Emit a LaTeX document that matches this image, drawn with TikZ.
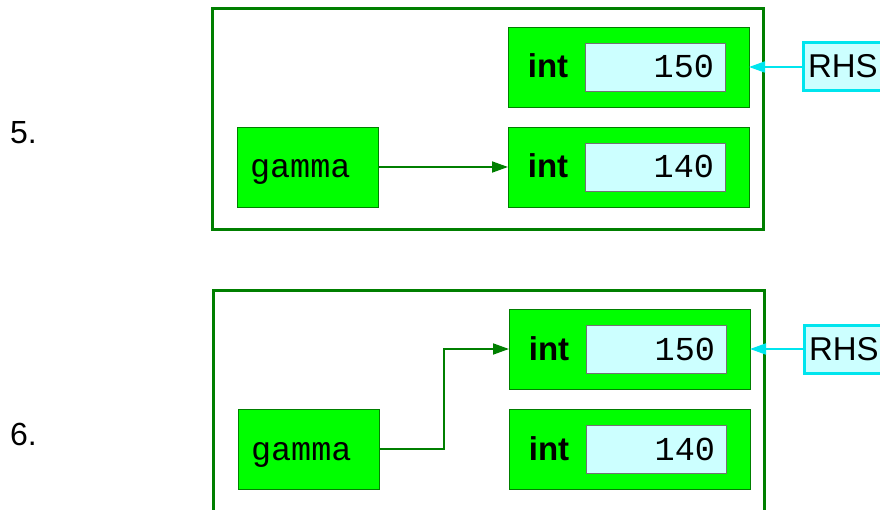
\documentclass[tikz,border=0pt]{standalone}
\usepackage{fontspec}
\setmainfont{Liberation Sans}
\setmonofont{Liberation Mono}
\usetikzlibrary{positioning,arrows.meta}

\definecolor{boxgreen}{HTML}{00FF00}
\definecolor{linegreen}{HTML}{007F00}
\definecolor{valcyan}{HTML}{CCFFFF}
\definecolor{rhscyan}{HTML}{00E5EE}

\begin{document}
\begin{tikzpicture}[
    x=1pt, y=-1pt,
    every node/.style={inner sep=0pt, outer sep=0pt, rectangle},
    frame/.style={draw=linegreen, line width=3pt, minimum width=551pt, minimum height=221pt},
    intbox/.style={draw=linegreen, fill=boxgreen, line width=0.8pt, minimum width=241pt, minimum height=80pt},
    valbox/.style={draw=black!55, fill=valcyan, line width=0.8pt, minimum width=140pt, minimum height=48pt,
        text width=118pt, align=right, text height=27pt, text depth=5pt, font=\fontsize{33.5}{36}\ttfamily},
    typename/.style={text height=27pt, text depth=5pt, font=\fontsize{33}{36}\selectfont\bfseries},
    varbox/.style={draw=linegreen, fill=boxgreen, line width=0.8pt, minimum width=141pt, minimum height=80pt,
        text width=115pt, align=left, text height=27pt, text depth=5pt, font=\fontsize{33.5}{36}\ttfamily},
    rhsbox/.style={draw=rhscyan, fill=valcyan, line width=3pt, minimum width=82pt, minimum height=48pt,
        text width=72pt, align=left, text height=27pt, text depth=5pt, font=\fontsize{33}{36}\selectfont},
    steplabel/.style={anchor=base west, font=\fontsize{32}{36}\selectfont},
    >={Triangle[length=16pt, width=11pt]}
]

\useasboundingbox (0,0) rectangle (880,510);
\clip (0,0) rectangle (880,510);

% Step 5
\node[steplabel] (num5) at (10,144) {5.};
\node[frame] (frame5) at (487.5,119.5) {};
\node[intbox] (int5a) at (628.5,67) {};
\node[intbox] (int5b) at (628.5,167) {};
\node[typename] (type5a) at (548,67) {int};
\node[typename] (type5b) at (548,167) {int};
\node[valbox] (val5a) at (655,67) {150};
\node[valbox] (val5b) at (655,167) {140};
\node[varbox] (gamma5) at (307.5,167) {gamma};
\node[rhsbox] (rhs5) at (844,67) {RHS};

\draw[->, draw=linegreen, line width=1.8pt] (gamma5) -- (int5b);
\draw[->, draw=rhscyan, line width=1.8pt] (rhs5) -- (int5a);

% Step 6
\node[steplabel] (num6) at (10,445) {6.};
\node[frame] (frame6) at (488.5,401.5) {};
\node[intbox] (int6a) at (629.5,349) {};
\node[intbox] (int6b) at (629.5,449) {};
\node[typename] (type6a) at (549,349) {int};
\node[typename] (type6b) at (549,449) {int};
\node[valbox] (val6a) at (656,349) {150};
\node[valbox] (val6b) at (656,449) {140};
\node[varbox] (gamma6) at (308.5,449) {gamma};
\node[rhsbox] (rhs6) at (845,349) {RHS};

\draw[->, draw=linegreen, line width=1.8pt] (gamma6.east) -- ++(65,0) |- (int6a.west);
\draw[->, draw=rhscyan, line width=1.8pt] (rhs6) -- (int6a);

\end{tikzpicture}
\end{document}
